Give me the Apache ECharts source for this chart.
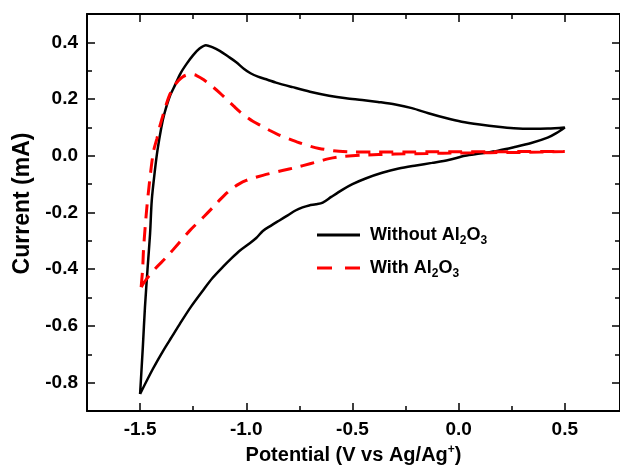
<!DOCTYPE html>
<html><head><meta charset="utf-8">
<script src="https://cdn.jsdelivr.net/npm/echarts@6/dist/echarts.min.js"></script>
<style>html,body{margin:0;padding:0;background:#fff}#c{width:620px;height:474px}</style>
</head><body><div id="c"></div>
<script>
const seriesNames = ['Without Al2O3', 'With Al2O3'];
const legendLabels = ['Without Al{sub|2}O{sub|3}', 'With Al{sub|2}O{sub|3}'];

const withoutPotential = [-1.500,-1.487,-1.477,-1.465,-1.453,-1.445,-1.430,-1.418,-1.400,-1.385,-1.360,-1.335,-1.310,-1.281,-1.250,-1.220,-1.190,-1.160,-1.125,-1.085,-1.047,-1.010,-0.980,-0.945,-0.900,-0.860,-0.782,-0.700,-0.610,-0.530,-0.454,-0.380,-0.298,-0.220,-0.142,-0.060,0.014,0.100,0.186,0.260,0.342,0.420,0.500,
  0.460,0.419,0.342,0.260,0.186,0.100,0.030,-0.048,-0.126,-0.200,-0.282,-0.360,-0.438,-0.500,-0.548,-0.600,-0.640,-0.672,-0.704,-0.735,-0.766,-0.805,-0.844,-0.885,-0.922,-0.953,-0.990,-1.031,-1.070,-1.110,-1.160,-1.203,-1.260,-1.312,-1.350,-1.390,-1.440,-1.500];
const withoutCurrent = [-0.840,-0.674,-0.533,-0.400,-0.275,-0.157,-0.050,0.020,0.100,0.150,0.210,0.250,0.290,0.324,0.355,0.378,0.390,0.383,0.370,0.350,0.330,0.306,0.291,0.279,0.268,0.258,0.242,0.226,0.212,0.203,0.197,0.190,0.181,0.168,0.150,0.133,0.120,0.110,0.102,0.097,0.095,0.096,0.100,
  0.080,0.064,0.045,0.030,0.018,0.008,0.000,-0.015,-0.025,-0.034,-0.045,-0.060,-0.080,-0.100,-0.120,-0.145,-0.165,-0.171,-0.175,-0.182,-0.192,-0.210,-0.228,-0.247,-0.265,-0.290,-0.312,-0.335,-0.362,-0.392,-0.432,-0.474,-0.532,-0.592,-0.638,-0.686,-0.752,-0.840];

const withPotential = [-1.495,-1.488,-1.484,-1.476,-1.468,-1.453,-1.437,-1.421,-1.405,-1.390,-1.375,-1.359,-1.340,-1.320,-1.300,-1.281,-1.255,-1.234,-1.200,-1.156,-1.125,-1.094,-1.060,-1.031,-1.000,-0.969,-0.930,-0.891,-0.850,-0.800,-0.750,-0.700,-0.657,-0.600,-0.563,-0.500,-0.376,-0.250,-0.142,0.000,0.150,0.300,0.500,
  0.300,0.150,0.000,-0.150,-0.300,-0.454,-0.550,-0.610,-0.650,-0.700,-0.766,-0.830,-0.891,-0.922,-0.970,-1.000,-1.031,-1.060,-1.090,-1.120,-1.141,-1.200,-1.265,-1.320,-1.375,-1.429,-1.470,-1.495];
const withCurrent = [-0.463,-0.400,-0.333,-0.251,-0.181,-0.075,0.015,0.060,0.110,0.148,0.185,0.218,0.245,0.265,0.278,0.285,0.287,0.283,0.268,0.242,0.222,0.200,0.176,0.156,0.138,0.122,0.106,0.090,0.075,0.060,0.046,0.034,0.026,0.019,0.016,0.014,0.013,0.013,0.014,0.014,0.014,0.015,0.015,
  0.012,0.011,0.010,0.008,0.006,0.002,-0.003,-0.010,-0.018,-0.028,-0.041,-0.052,-0.063,-0.069,-0.079,-0.087,-0.098,-0.112,-0.130,-0.152,-0.169,-0.215,-0.263,-0.310,-0.357,-0.398,-0.435,-0.463];

const xMajorTicks = [-1.5, -1.0, -0.5, 0.0, 0.5];
const xMinorTicks = [-1.25, -0.75, -0.25, 0.25];
const yMajorTicks = [-0.8, -0.6, -0.4, -0.2, 0.0, 0.2, 0.4];
const yMinorTicks = [-0.7, -0.5, -0.3, -0.1, 0.1, 0.3];

const FONT = '"Liberation Sans", Arial, Helvetica, sans-serif';

function zip(a, b) { return a.map((v, i) => [v, b[i]]); }

function axis(kind, pos, ticks, len, showLine, showLabel) {
  const isX = kind === 'x';
  return {
    type: 'value',
    position: pos,
    min: isX ? -1.75 : -0.9,
    max: isX ? 0.76 : 0.5,
    axisLine: { show: showLine, onZero: false, lineStyle: { color: '#000', width: 2 } },
    axisTick: { show: true, inside: true, length: len, customValues: ticks, lineStyle: { color: '#000', width: 1.5 } },
    axisLabel: showLabel ? {
      show: true, customValues: ticks, margin: 9,
      fontFamily: FONT, fontWeight: 'bold', fontSize: 19, color: '#000',
      formatter: v => v.toFixed(1)
    } : { show: false },
    splitLine: { show: false }
  };
}

const xb = axis('x', 'bottom', xMajorTicks, 8, true, true);
xb.name = 'Potential (V vs Ag/Ag{sup|+})';
xb.nameLocation = 'middle';
xb.nameGap = 32;
xb.nameTextStyle = {
  fontFamily: FONT, fontWeight: 'bold', fontSize: 20, color: '#000', lineHeight: 24,
  rich: { sup: { fontFamily: FONT, fontWeight: 'bold', fontSize: 12, lineHeight: 12, verticalAlign: 'top', color: '#000' } }
};
const yl = axis('y', 'left', yMajorTicks, 8, true, true);
yl.name = 'Current (mA)';
yl.nameLocation = 'middle';
yl.nameGap = 51;
yl.nameTextStyle = { fontFamily: FONT, fontWeight: 'bold', fontSize: 23, color: '#000', padding: [0, 0, 0, 18] };

const chart = echarts.init(document.getElementById('c'), null, { renderer: 'canvas' });
chart.setOption({
  backgroundColor: '#fff',
  animation: false,
  grid: { left: 87, top: 14, width: 536, height: 397, containLabel: false },
  xAxis: [
    xb,
    axis('x', 'bottom', xMinorTicks, 5, false, false),
    axis('x', 'top', xMajorTicks, 8, true, false),
    axis('x', 'top', xMinorTicks, 5, false, false)
  ],
  yAxis: [
    yl,
    axis('y', 'left', yMinorTicks, 5, false, false),
    axis('y', 'right', yMajorTicks, 8, true, false),
    axis('y', 'right', yMinorTicks, 5, false, false)
  ],
  legend: {
    orient: 'vertical', left: 317, top: 223, padding: 0, itemWidth: 43, itemHeight: 3, itemGap: 9,
    data: [
      { name: seriesNames[0], icon: 'path://M0,0h43v3h-43z', itemStyle: { color: '#000' } },
      { name: seriesNames[1], icon: 'path://M0,0h15v3h-15zM28,0h15v3h-15z', itemStyle: { color: '#ff0000' } }
    ],
    formatter: name => legendLabels[seriesNames.indexOf(name)],
    textStyle: {
      fontFamily: FONT, fontWeight: 'bold', fontSize: 18, color: '#000', lineHeight: 24, padding: [0, 0, 0, 5],
      rich: { sub: { fontFamily: FONT, fontWeight: 'bold', fontSize: 12, lineHeight: 12, verticalAlign: 'bottom', color: '#000' } }
    }
  },
  series: [
    {
      name: seriesNames[0], type: 'line', xAxisIndex: 0, yAxisIndex: 0,
      data: zip(withoutPotential, withoutCurrent), symbol: 'none', showSymbol: false,
      smooth: 0.3, lineStyle: { color: '#000', width: 2.5 }, itemStyle: { color: '#000' }
    },
    {
      name: seriesNames[1], type: 'line', xAxisIndex: 0, yAxisIndex: 0,
      data: zip(withPotential, withCurrent), symbol: 'none', showSymbol: false,
      smooth: 0.3, lineStyle: { color: '#ff0000', width: 3, type: [14, 9] }, itemStyle: { color: '#ff0000' }
    }
  ]
});
</script></body></html>
